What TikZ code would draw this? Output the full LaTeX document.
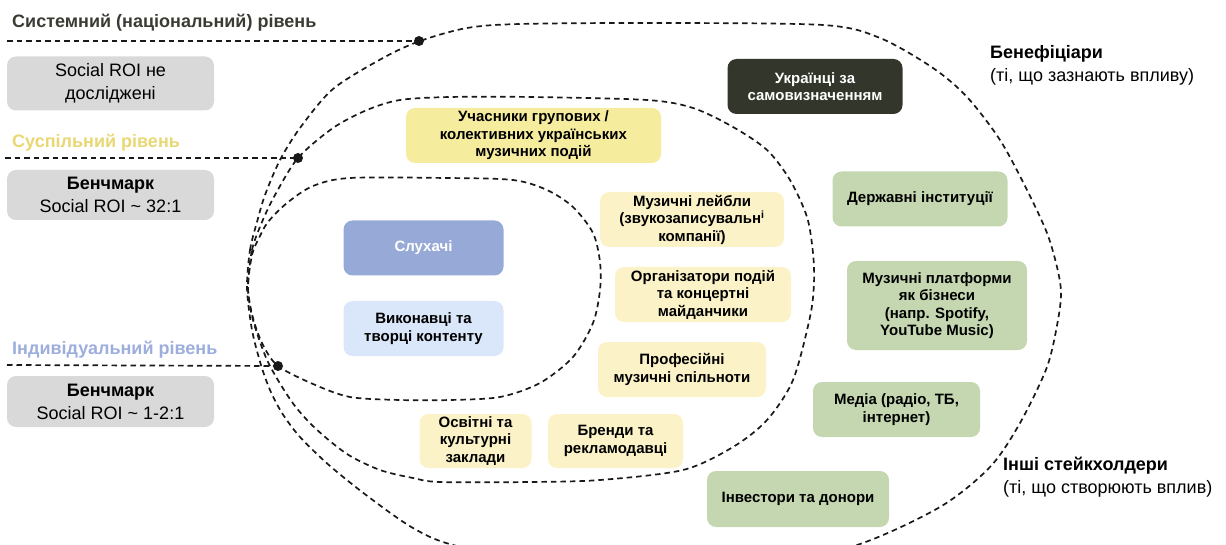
\documentclass[tikz,border=0pt]{standalone}
\usepackage{fontspec}
\setmainfont{Liberation Sans}
\definecolor{grayb}{HTML}{D9D9D9}
\definecolor{yel}{HTML}{F6EC9E}
\definecolor{lyel}{HTML}{FBF2C8}
\definecolor{blu}{HTML}{97A9D7}
\definecolor{lblu}{HTML}{DAE6FA}
\definecolor{grn}{HTML}{C5D7B1}
\definecolor{darkb}{HTML}{33362B}
\definecolor{titlec}{HTML}{3A3C33}
\definecolor{yeltxt}{HTML}{E9D773}
\definecolor{blutxt}{HTML}{9DAEDD}
\begin{document}
\begin{tikzpicture}[x=1pt,y=-1pt,
  ring/.style={line width=1.7pt, dash pattern=on 5.5pt off 4pt, black!90, line cap=butt},
  lvlline/.style={line width=1.7pt, dash pattern=on 5.5pt off 4pt, black!90},
  dotnode/.style={circle, fill=black!90, inner sep=0pt, minimum size=10pt},
  box/.style={rounded corners=9pt, align=center, inner sep=0pt, font=\bfseries\fontsize{15}{17.5}\selectfont, text=black},
  ybox/.style={box, fill=yel},
  lybox/.style={box, fill=lyel},
  gbox/.style={box, fill=grn},
  graybox/.style={rounded corners=9pt, align=center, inner sep=0pt, fill=grayb, font=\fontsize{18}{23}\selectfont, text=black, minimum width=207pt},
  lvltext/.style={anchor=west, inner sep=0pt, font=\bfseries\fontsize{18}{21}\selectfont},
  sidetext/.style={anchor=north west, inner sep=0pt, align=left, font=\fontsize{18}{23}\selectfont, text=black}
]
\useasboundingbox (0,0) rectangle (1226,545);

% rings
\begin{scope}
\clip (0,0) rectangle (1226,545);
\draw[ring] plot[smooth cycle] coordinates {
 (247,288) (250,250) (257,222) (265,195) (280,160) (300,128) (333,89) (383,58) (420,41) (467,28) (520,24) (654,23) (823,25) (880,38) (933,68) (967,97) (1000,140) (1027,190) (1047,233) (1057,267) (1061,292) (1058,320) (1047,367) (1020,423) (990,467) (940,507) (857,545) (760,565) (654,570) (550,565) (453,545) (413,528) (370,498) (330,466) (300,437) (282,413) (270,390) (261,365) (252,330)};
\end{scope}
\draw[ring] plot[smooth cycle] coordinates {
 (248,288) (252,250) (262,222) (275,195) (298,158) (333,128) (367,110) (400,100) (450,97) (531,97) (647,100) (693,108) (733,127) (767,150) (790,180) (807,217) (813,253) (814,283) (810,317) (793,380) (767,420) (733,447) (683,470) (600,480) (531,482) (440,482) (413,478) (380,470) (347,454) (315,428) (292,402) (268,362) (253,320)};
\draw[ring] plot[smooth cycle] coordinates {
 (248,288) (252,255) (259,238) (268,222) (287,203) (313,186) (350,178) (447,178) (513,180) (547,190) (573,207) (593,233) (600,262) (600,290) (593,323) (573,357) (540,383) (500,397) (450,400) (400,400) (350,397) (313,384) (278,366) (263,345) (253,318)};

% level dots and lines
\node[dotnode] (d1) at (419,41) {};
\node[dotnode] (d2) at (298,158) {};
\node[dotnode] (d3) at (278,366) {};
\coordinate (l1) at (7,41);
\coordinate (l2) at (5,158);
\coordinate (l3) at (7,365);
\draw[lvlline] (l1) -- (d1.center);
\draw[lvlline] (l2) -- (d2.center);
\draw[lvlline] (l3) -- (d3.center);

% level labels
\node[lvltext, text=titlec] (t1) at (12,23) {Системний (національний) рівень};
\node[lvltext, text=yeltxt] (t2) at (12,143) {Суспільний рівень};
\node[lvltext, text=blutxt] (t3) at (12,350) {Індивідуальний рівень};

\node[graybox, minimum height=54pt] (g1) at (110.5,83.5) {Social ROI не\\досліджені};
\node[graybox, minimum height=50pt] (g2) at (110.5,195) {\textbf{Бенчмарк}\\Social ROI \textasciitilde{} 32:1};
\node[graybox, minimum height=51pt] (g3) at (110.5,401.5) {\textbf{Бенчмарк}\\Social ROI \textasciitilde{} 1-2:1};

% inner boxes
\node[box, fill=blu, text=white, minimum width=160pt, minimum height=55pt] (sluh) at (423.5,248) {Слухачі};
\node[box, fill=lblu, minimum width=160pt, minimum height=55pt] (vyk) at (423.5,328.5) {Виконавці та\\творці контенту};

% middle boxes
\node[ybox, minimum width=255pt, minimum height=55pt] (uch) at (533.5,135.5) {Учасники групових /\\колективних українських\\музичних подій};
\node[lybox, minimum width=184pt, minimum height=55pt] (leib) at (692,219.5) {Музичні лейбли\\(звукозаписувальн\textsuperscript{і}\\компанії)};
\node[lybox, minimum width=176pt, minimum height=55pt] (org) at (703,294.5) {Організатори подій\\та концертні\\майданчики};
\node[lybox, minimum width=168pt, minimum height=55pt] (prof) at (682,369.5) {Професійні\\музичні спільноти};
\node[lybox, minimum width=112pt, minimum height=54pt] (osv) at (475.5,441) {Освітні та\\культурні\\заклади};
\node[lybox, minimum width=135pt, minimum height=54pt] (brand) at (615.5,441) {Бренди та\\рекламодавці};

% outer boxes
\node[box, fill=darkb, text=white, minimum width=175pt, minimum height=55pt] (ukr) at (815,86.5) {Українці за\\самовизначенням};
\node[gbox, minimum width=175pt, minimum height=55pt] (derzh) at (920,199) {Державні інституції};
\node[gbox, minimum width=180pt, minimum height=89pt] (platf) at (937,305.5) {Музичні платформи\\як бізнеси\\(напр. Spotify,\\YouTube Music)};
\node[gbox, minimum width=167pt, minimum height=55pt] (media) at (896.5,409.5) {Медіа (радіо, ТБ,\\інтернет)};
\node[gbox, minimum width=182pt, minimum height=56pt] (inv) at (798,499) {Інвестори та донори};

% side labels
\node[sidetext] (benef) at (990,45) {\textbf{Бенефіціари}\\(ті, що зазнають впливу)};
\node[sidetext] (inshi) at (1003,457) {\textbf{Інші стейкхолдери}\\(ті, що створюють вплив)};
\end{tikzpicture}
\end{document}
